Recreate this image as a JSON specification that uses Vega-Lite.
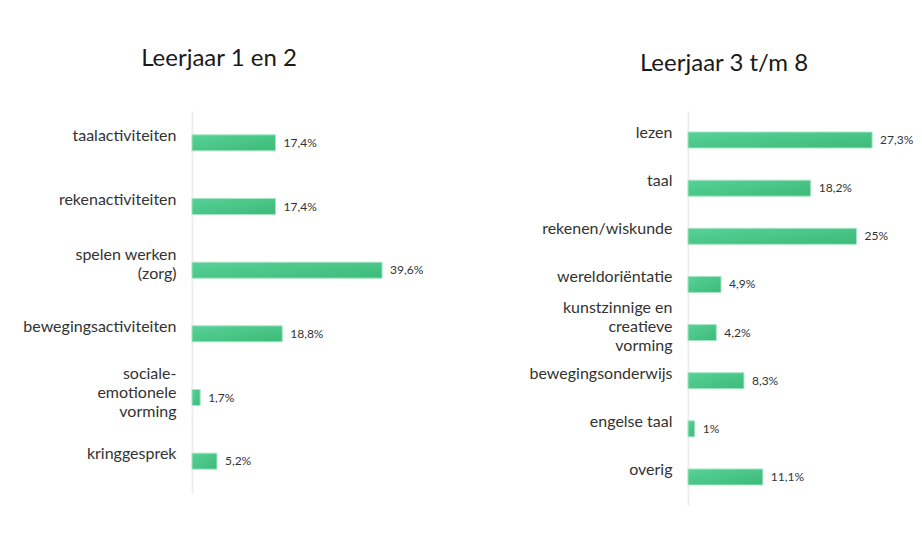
{
  "$schema": "https://vega.github.io/schema/vega-lite/v6.json",
  "padding": {"left": 0, "top": 47, "right": 0, "bottom": 0},
  "background": "white",
  "spacing": 0,
  "datasets": {
    "g12": [
      {"cat": "taalactiviteiten", "value": 0.174},
      {"cat": "rekenactiviteiten", "value": 0.174},
      {"cat": "spelen werken|(zorg)", "value": 0.396},
      {"cat": "bewegingsactiviteiten", "value": 0.188},
      {"cat": "sociale-|emotionele|vorming", "value": 0.017},
      {"cat": "kringgesprek", "value": 0.052}
    ],
    "g38": [
      {"cat": "lezen", "value": 0.273},
      {"cat": "taal", "value": 0.182},
      {"cat": "rekenen/wiskunde", "value": 0.25},
      {"cat": "wereldoriëntatie", "value": 0.049},
      {"cat": "kunstzinnige en|creatieve|vorming", "value": 0.042},
      {"cat": "bewegingsonderwijs", "value": 0.083},
      {"cat": "engelse taal", "value": 0.01},
      {"cat": "overig", "value": 0.111}
    ]
  },
  "hconcat": [
    {
      "data": {"name": "g12"},
      "width": 250,
      "height": 382,
      "title": {"text": "Leerjaar 1 en 2", "anchor": "middle", "dx": -98, "offset": 21, "baseline": "alphabetic"},
      "encoding": {
        "y": {"field": "cat", "type": "nominal", "sort": null,
              "scale": {"paddingInner": 0, "paddingOuter": 0},
              "axis": {"title": null, "minExtent": 192, "maxExtent": 192, "labelExpr": "split(datum.label, '|')",
                       "labelOffset": {"condition": [{"test": "length(split(datum.label, '|')) == 3", "value": -24}, {"test": "length(split(datum.label, '|')) == 2", "value": -15}], "value": -7}}},
        "x": {"field": "value", "type": "quantitative", "scale": {"domain": [0, 0.5208], "nice": false}, "axis": null}
      },
      "layer": [
        {"mark": {"type": "bar", "height": 16}},
        {"mark": {"type": "text", "align": "left", "baseline": "middle", "dx": 8, "fontSize": 12, "font": "Lato", "color": "#333"},
         "encoding": {"text": {"field": "value", "type": "quantitative", "format": ".1~%"}}}
      ]
    },
    {
      "data": {"name": "g38"},
      "width": 234,
      "height": 395,
      "title": {"text": "Leerjaar 3 t/m 8", "anchor": "middle", "dx": -81, "offset": 16, "baseline": "alphabetic"},
      "encoding": {
        "y": {"field": "cat", "type": "nominal", "sort": null,
              "scale": {"paddingInner": 0, "paddingOuter": 0.1024},
              "axis": {"title": null, "minExtent": 246, "maxExtent": 246, "labelExpr": "split(datum.label, '|')",
                       "labelOffset": {"condition": [{"test": "length(split(datum.label, '|')) == 3", "value": -25}, {"test": "length(split(datum.label, '|')) == 2", "value": -15}], "value": -7}}},
        "x": {"field": "value", "type": "quantitative", "scale": {"domain": [0, 0.347], "nice": false}, "axis": null}
      },
      "layer": [
        {"mark": {"type": "bar", "height": 16}},
        {"mark": {"type": "text", "align": "left", "baseline": "middle", "dx": 8, "fontSize": 12, "font": "Lato", "color": "#333"},
         "encoding": {"text": {"field": "value", "type": "quantitative", "format": ".1~%"}}}
      ]
    }
  ],
  "config": {
    "locale": {"number": {"decimal": ",", "thousands": ".", "grouping": [3], "currency": ["€", ""]}},
    "view": {"stroke": null},
    "title": {"font": "Lato", "fontSize": 24, "fontWeight": "normal", "color": "#1a1a1a"},
    "axis": {
      "labelFont": "Lato", "labelFontSize": 16, "labelColor": "#333",
      "labelPadding": 16, "ticks": false, "grid": false,
      "domainColor": "#eeeeee", "domainWidth": 2, "labelLineHeight": 19, "labelLimit": 300
    },
    "bar": {
      "color": {"gradient": "linear", "x1": 0, "y1": 0, "x2": 1, "y2": 1,
                "stops": [{"offset": 0, "color": "#58d197"}, {"offset": 1, "color": "#3cbb79"}]},
      "stroke": "#a6e6c6", "strokeWidth": 1
    }
  }
}
